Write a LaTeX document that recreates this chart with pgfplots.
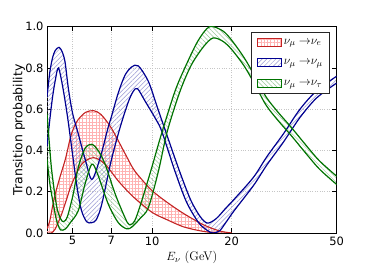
\documentclass[border=0pt]{standalone}
\usepackage{fontspec}
\setsansfont{DejaVu Sans}
\usepackage{pgfplots}
\usepackage{pgfplotstable}
\pgfplotsset{compat=1.18}
\usepgfplotslibrary{fillbetween}
\usetikzlibrary{patterns.meta}
\definecolor{cR}{RGB}{195,35,35}
\definecolor{cB}{RGB}{0,0,145}
\definecolor{cG}{RGB}{0,115,0}

\pgfplotstableread{
E P
4.00 0.02
4.10 0.06
4.20 0.13
4.30 0.19
4.50 0.28
4.70 0.36
4.90 0.46
5.05 0.51
5.25 0.55
5.60 0.585
6.00 0.593
6.40 0.575
7.00 0.51
7.90 0.385
8.50 0.31
9.13 0.26
10.0 0.205
11.36 0.15
13.14 0.095
15.64 0.04
18.0 0.01
20.0 0.0
}\RU
\pgfplotstableread{
E P
4.00 0.0
4.15 0.0
4.30 0.02
4.54 0.09
4.75 0.165
4.96 0.236
5.41 0.333
6.00 0.365
6.64 0.333
7.45 0.252
8.49 0.175
10.0 0.10
11.36 0.065
13.14 0.03
15.3 0.01
17.5 0.0
20.0 0.0
}\RL
\pgfplotstableread{
E P
4.00 0.66
4.10 0.78
4.20 0.85
4.30 0.885
4.44 0.90
4.56 0.88
4.68 0.83
4.82 0.70
5.00 0.58
5.23 0.49
5.60 0.35
5.92 0.26
6.36 0.365
6.81 0.51
7.00 0.56
7.45 0.68
7.90 0.765
8.37 0.805
8.87 0.81
9.68 0.735
10.4 0.62
11.2 0.50
12.7 0.30
14.0 0.16
15.2 0.08
16.2 0.048
17.5 0.07
19.0 0.12
20.5 0.165
24.2 0.27
27.2 0.37
31.4 0.48
36.3 0.60
42.0 0.69
50.0 0.76
}\BU
\pgfplotstableread{
E P
4.00 0.42
4.10 0.55
4.20 0.66
4.30 0.74
4.42 0.80
4.60 0.70
4.80 0.55
5.00 0.38
5.20 0.22
5.40 0.11
5.65 0.055
5.90 0.05
6.15 0.065
6.45 0.14
7.00 0.35
7.56 0.51
8.10 0.63
8.47 0.685
8.80 0.70
9.40 0.64
10.4 0.545
10.9 0.49
12.2 0.30
13.5 0.15
15.0 0.05
16.2 0.012
17.0 0.0
18.0 0.01
19.0 0.05
20.5 0.11
24.2 0.23
27.2 0.33
31.4 0.44
36.3 0.56
42.0 0.655
50.0 0.727
}\BL
\pgfplotstableread{
E P
4.00 0.58
4.08 0.44
4.17 0.30
4.35 0.13
4.50 0.07
4.62 0.055
4.78 0.08
5.03 0.19
5.25 0.317
5.57 0.41
5.91 0.43
6.25 0.40
6.64 0.333
7.26 0.187
7.90 0.074
8.20 0.04
8.60 0.06
9.13 0.155
9.97 0.317
10.85 0.48
12.2 0.686
13.3 0.80
14.9 0.93
16.5 1.0
18.5 0.98
20.0 0.935
22.3 0.85
24.5 0.76
27.0 0.66
30.0 0.585
33.5 0.515
38.0 0.43
43.0 0.35
50.0 0.275
}\GU
\pgfplotstableread{
E P
4.00 0.36
4.10 0.24
4.23 0.139
4.35 0.06
4.50 0.015
4.70 0.02
4.90 0.05
5.25 0.107
5.57 0.236
5.91 0.333
6.20 0.29
6.83 0.139
7.45 0.05
8.02 0.02
8.40 0.03
9.00 0.07
9.68 0.123
10.57 0.30
11.4 0.49
12.75 0.686
14.1 0.816
15.7 0.905
17.0 0.945
18.5 0.93
20.0 0.89
22.3 0.81
24.5 0.72
27.0 0.62
30.0 0.545
33.5 0.475
38.0 0.39
43.0 0.31
50.0 0.235
}\GL

\tikzset{
  patR/.style={pattern={Hatch[angle=0,distance=3.3bp,line width=0.35pt]}, pattern color=red!30},
  patB/.style={pattern={Lines[angle=45,distance=3.2bp,line width=0.5pt]}, pattern color=cB!40},
  patG/.style={pattern={Lines[angle=-45,distance=3.2bp,line width=0.5pt]}, pattern color=cG!40},
}

\begin{document}
\begin{tikzpicture}
\begin{axis}[
  scale only axis, width=289.7bp, height=206.3bp,
  xmode=log, xmin=4, xmax=50, ymin=0, ymax=1,
  xtick={5,7,10,20,50}, xticklabels={5,7,10,20,50},
  xminorticks=false,
  ytick={0,0.2,0.4,0.6,0.8,1.0},
  yticklabel style={/pgf/number format/.cd, fixed, fixed zerofill, precision=1},
  /pgf/number format/assume math mode=true,
  ticklabel style={font=\sffamily\fontsize{11.5}{13}\selectfont},
  tick align=inside, tick pos=both, major tick length=4.5bp,
  every tick/.style={black, line width=0.6pt},
  grid=major,
  major grid style={dotted, gray!45, line width=0.5pt},
  axis line style={black, line width=0.9pt},
  xlabel={\fontsize{12.5}{15}\selectfont $E_\nu$\ (GeV)},
  ylabel={\sffamily\fontsize{12.5}{14}\selectfont Transition probability},
  xlabel style={at={(axis description cs:0.5,-0.132)}, anchor=base},
  ylabel style={at={(axis description cs:-0.0967,0.5)}, anchor=center},
  legend style={at={(rel axis cs:0.977,0.974)}, anchor=north east,
    draw=black!85, line width=0.6pt, fill=white, font=\fontsize{12.5}{14}\selectfont,
    row sep=10bp, inner xsep=5bp, inner ysep=4.5bp},
  legend cell align=left,
  legend image code/.code={\draw[#1] (0bp,-4bp) rectangle (24bp,4bp);},
]
% red
\addplot[draw=none, smooth, name path=RU, forget plot] table[x=E,y=P] {\RU};
\addplot[draw=none, smooth, name path=RL, forget plot] table[x=E,y=P] {\RL};
\addplot[draw=none, patR, forget plot] fill between[of=RU and RL];
\addplot[cR, line width=1.1pt, smooth, forget plot] table[x=E,y=P] {\RU};
\addplot[cR, line width=1.1pt, smooth, forget plot] table[x=E,y=P] {\RL};
% blue
\addplot[draw=none, smooth, name path=BU, forget plot] table[x=E,y=P] {\BU};
\addplot[draw=none, smooth, name path=BL, forget plot] table[x=E,y=P] {\BL};
\addplot[draw=none, patB, forget plot] fill between[of=BU and BL];
\addplot[cB, line width=1.2pt, smooth, forget plot] table[x=E,y=P] {\BU};
\addplot[cB, line width=1.2pt, smooth, forget plot] table[x=E,y=P] {\BL};
% green
\addplot[draw=none, smooth, name path=GU, forget plot] table[x=E,y=P] {\GU};
\addplot[draw=none, smooth, name path=GL, forget plot] table[x=E,y=P] {\GL};
\addplot[draw=none, patG, forget plot] fill between[of=GU and GL];
\addplot[cG, line width=1.2pt, smooth, forget plot] table[x=E,y=P] {\GU};
\addplot[cG, line width=1.2pt, smooth, forget plot] table[x=E,y=P] {\GL};

\addlegendimage{draw=cR, line width=1.3pt, patR}
\addlegendentry{$\nu_\mu\;{\rightarrow}\nu_e$}
\addlegendimage{draw=cB, line width=1.3pt, patB}
\addlegendentry{$\nu_\mu\;{\rightarrow}\nu_\mu$}
\addlegendimage{draw=cG, line width=1.3pt, patG}
\addlegendentry{$\nu_\mu\;{\rightarrow}\nu_\tau$}
\end{axis}
\pgfresetboundingbox
\path[use as bounding box] (-47bp,-34bp) rectangle (327bp,233bp);
\end{tikzpicture}
\end{document}
